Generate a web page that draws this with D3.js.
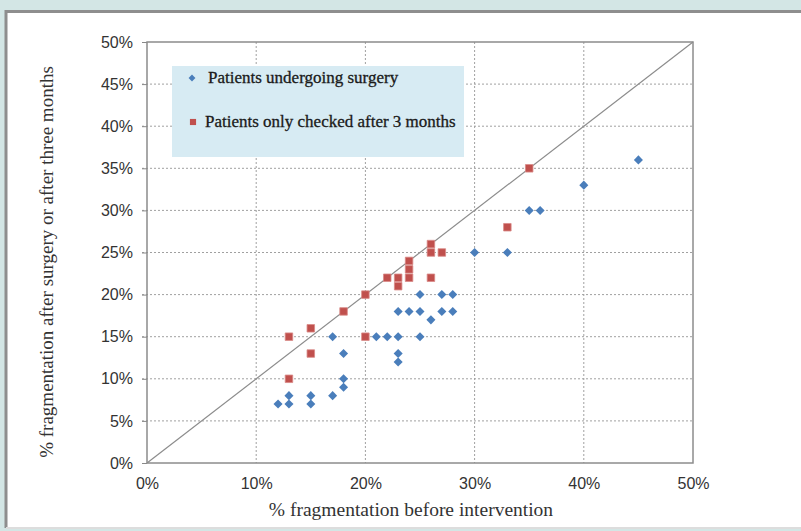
<!DOCTYPE html>
<html>
<head>
<meta charset="utf-8">
<script src="https://cdn.jsdelivr.net/npm/d3@7"></script>
<style>
  body { margin: 0; background: #d3e6e5; }
  svg { display: block; }
</style>
</head>
<body>
<svg id="chart" width="801" height="531"></svg>
<script>
// data, values in %
var surgeryX = [12, 13, 13, 15, 15, 17, 17, 18, 18, 18, 21, 22, 23, 23, 23, 23, 24, 25, 25, 25, 26, 27, 27, 28, 28, 30, 33, 35, 36, 40, 45]
var surgeryY = [7, 8, 7, 8, 7, 8, 15, 13, 10, 9, 15, 15, 15, 13, 12, 18, 18, 18, 20, 15, 17, 18, 20, 18, 20, 25, 25, 30, 30, 33, 36]

var checkedX = [13, 13, 15, 15, 18, 20, 20, 22, 23, 23, 24, 24, 24, 26, 26, 26, 27, 33, 35]
var checkedY = [15, 10, 16, 13, 18, 20, 15, 22, 21, 22, 24, 23, 22, 26, 25, 22, 25, 28, 35]

var xTicks = [0, 10, 20, 30, 40, 50]
var yTicks = [0, 5, 10, 15, 20, 25, 30, 35, 40, 45, 50]
var seriesNames = ['Patients undergoing surgery', 'Patients only checked after 3 months']

var svg = d3.select('#chart')

// white panel with grey frame
svg.append('rect')
  .attr('x', 6).attr('y', 11)
  .attr('width', 801).attr('height', 516)
  .attr('fill', '#ffffff')
svg.append('path')
  .attr('d', 'M6,528 L6,11.5 L801,11.5')
  .attr('fill', 'none')
  .attr('stroke', '#8e8e8e')
  .attr('stroke-width', 3)
svg.append('line')
  .attr('x1', 6).attr('x2', 801)
  .attr('y1', 528).attr('y2', 528)
  .attr('stroke', '#dddddd')
  .attr('stroke-width', 2)

var plot = { left: 147, right: 693, top: 42, bottom: 463 }

var x = d3.scaleLinear().domain([0, 50]).range([plot.left, plot.right])
var y = d3.scaleLinear().domain([0, 50]).range([plot.bottom, plot.top])

// dotted grid
svg.append('g')
  .selectAll('line')
  .data(xTicks.slice(1, -1))
  .enter().append('line')
  .attr('x1', function(d) { return x(d) })
  .attr('x2', function(d) { return x(d) })
  .attr('y1', plot.top).attr('y2', plot.bottom)
  .attr('stroke', '#a0a0a0')
  .attr('stroke-dasharray', '2,2')

svg.append('g')
  .selectAll('line')
  .data(yTicks.slice(1, -1))
  .enter().append('line')
  .attr('x1', plot.left - 5).attr('x2', plot.right)
  .attr('y1', function(d) { return y(d) })
  .attr('y2', function(d) { return y(d) })
  .attr('stroke', '#a0a0a0')
  .attr('stroke-dasharray', '2,2')

// axes
var xAxis = svg.append('g')
  .attr('transform', 'translate(0,' + plot.bottom + ')')
  .call(d3.axisBottom(x).tickValues(xTicks).tickSize(0).tickPadding(15)
    .tickFormat(function(d) { return d + '%' }))
var yAxis = svg.append('g')
  .attr('transform', 'translate(' + plot.left + ',0)')
  .call(d3.axisLeft(y).tickValues(yTicks).tickSize(5).tickPadding(9)
    .tickFormat(function(d) { return d + '%' }))

svg.selectAll('.domain').remove()
yAxis.selectAll('.tick line').attr('stroke', '#888')
svg.selectAll('.tick text')
  .attr('font-family', 'Liberation Sans, Arial, sans-serif')
  .attr('font-size', 16)
  .attr('fill', '#333')

// plot border
svg.append('rect')
  .attr('x', plot.left).attr('y', plot.top)
  .attr('width', plot.right - plot.left)
  .attr('height', plot.bottom - plot.top)
  .attr('fill', 'none')
  .attr('stroke', '#8c8c8c')
  .attr('stroke-width', 1.5)

// identity line
svg.append('line')
  .attr('x1', x(0)).attr('y1', y(0))
  .attr('x2', x(50)).attr('y2', y(50))
  .attr('stroke', '#8c8c8c')
  .attr('stroke-width', 1.2)

// legend
var legend = svg.append('g')
legend.append('rect')
  .attr('x', 172).attr('y', 66)
  .attr('width', 292).attr('height', 91)
  .attr('fill', '#d7ebf3')

var diamond = d3.symbol().type(d3.symbolDiamond2).size(52)
var square = d3.symbol().type(d3.symbolSquare2).size(72)

legend.append('path')
  .attr('d', d3.symbol().type(d3.symbolDiamond2).size(30)())
  .attr('transform', 'translate(192,78)')
  .attr('fill', '#4a7ebb')
legend.append('path')
  .attr('d', d3.symbol().type(d3.symbolSquare2).size(48)())
  .attr('transform', 'translate(193,122)')
  .attr('fill', '#c0504d')

legend.selectAll('text')
  .data(seriesNames)
  .enter().append('text')
  .attr('x', function(d, i) { return i == 0 ? 208 : 205 })
  .attr('y', function(d, i) { return i == 0 ? 83 : 127 })
  .attr('font-family', 'Liberation Serif, Times New Roman, serif')
  .attr('font-size', 17)
  .attr('fill', '#1a1a1a')
  .attr('stroke', '#1a1a1a')
  .attr('stroke-width', 0.3)
  .text(function(d) { return d })

// points
var surgery = surgeryX.map(function(v, i) { return { x: v, y: surgeryY[i] } })
var checked = checkedX.map(function(v, i) { return { x: v, y: checkedY[i] } })

svg.append('g')
  .selectAll('path')
  .data(checked)
  .enter().append('path')
  .attr('d', square)
  .attr('transform', function(d) { return 'translate(' + x(d.x) + ',' + y(d.y) + ')' })
  .attr('fill', '#c0504d')
  .attr('stroke', '#d98a88')
  .attr('stroke-width', 0.8)

svg.append('g')
  .selectAll('path')
  .data(surgery)
  .enter().append('path')
  .attr('d', diamond)
  .attr('transform', function(d) { return 'translate(' + x(d.x) + ',' + y(d.y) + ')' })
  .attr('fill', '#4a7ebb')

// axis titles
svg.append('text')
  .attr('x', 411).attr('y', 516)
  .attr('text-anchor', 'middle')
  .attr('font-family', 'Liberation Serif, Times New Roman, serif')
  .attr('font-size', 19.5)
  .attr('fill', '#333')
  .text('% fragmentation before intervention')

svg.append('text')
  .attr('transform', 'translate(53,262) rotate(-90)')
  .attr('text-anchor', 'middle')
  .attr('font-family', 'Liberation Serif, Times New Roman, serif')
  .attr('font-size', 19)
  .attr('fill', '#333')
  .text('% fragmentation after surgery or after three months')
</script>
</body>
</html>
